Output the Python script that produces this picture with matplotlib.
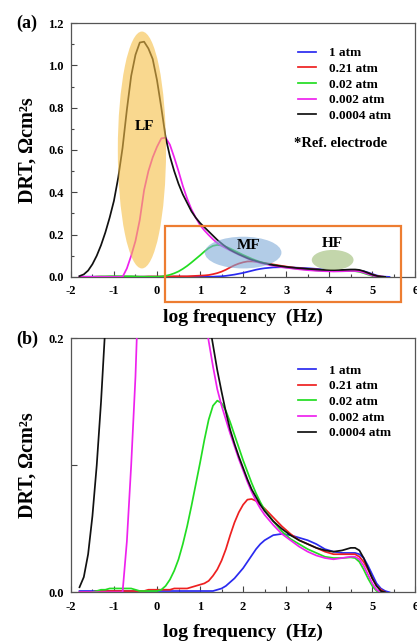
import numpy as np
import matplotlib
matplotlib.use("Agg")
import matplotlib.pyplot as plt
from matplotlib.patches import Ellipse, Rectangle
from matplotlib.ticker import MultipleLocator, FormatStrFormatter

nan = np.nan
log_f = [-1.9, -1.8, -1.7, -1.6, -1.5, -1.4, -1.3, -1.2, -1.1, -1.0, -0.9, -0.8, -0.7, -0.6,
         -0.5, -0.4, -0.3, -0.2, -0.1, 0.0, 0.1, 0.2, 0.3, 0.4, 0.5, 0.6, 0.7, 0.8, 0.9, 1.0,
         1.1, 1.2, 1.3, 1.4, 1.5, 1.6, 1.7, 1.8, 1.9, 2.0, 2.1, 2.2, 2.3, 2.4, 2.5, 2.7, 2.9,
         3.1, 3.3, 3.5, 3.7, 3.9, 4.1, 4.3, 4.5, 4.6, 4.7, 4.8, 4.9, 5.0, 5.1, 5.2, 5.3, 5.4]

drt_1atm = [nan, 0.001, 0.001, 0.001, 0.001, 0.001, 0.001, 0.001, 0.001, 0.001, 0.001, 0.001, 0.001, 0.001,
            0.001, 0.001, 0.001, 0.001, 0.001, 0.001, 0.001, 0.001, 0.001, 0.001, 0.001, 0.001, 0.001, 0.001, 0.001, 0.001,
            0.001, 0.001, 0.001, 0.002, 0.003, 0.005, 0.008, 0.011, 0.015, 0.019, 0.024, 0.029, 0.034, 0.038, 0.041, 0.045, 0.046,
            0.045, 0.043, 0.041, 0.038, 0.034, 0.032, 0.031, 0.031, 0.031, 0.030, 0.027, 0.021, 0.014, 0.007, 0.003, 0.001, 0.0]

drt_021atm = [nan, 0.0, 0.0, 0.0, 0.0, 0.001, 0.001, 0.001, 0.001, 0.001, 0.001, 0.001, 0.001, 0.001,
              0.001, 0.001, 0.001, 0.002, 0.002, 0.002, 0.002, 0.002, 0.002, 0.003, 0.003, 0.003, 0.003, 0.004, 0.005, 0.006,
              0.007, 0.009, 0.013, 0.018, 0.025, 0.034, 0.045, 0.055, 0.063, 0.069, 0.073, 0.0735, 0.072, 0.069, 0.066, 0.059, 0.052,
              0.046, 0.041, 0.038, 0.035, 0.032, 0.030, 0.030, 0.030, 0.030, 0.028, 0.024, 0.018, 0.011, 0.005, 0.002, 0.0, nan]

drt_002atm = [nan, nan, nan, nan, 0.0, 0.001, 0.002, 0.002, 0.003, 0.003, 0.003, 0.003, 0.003, 0.003,
              0.002, 0.001, 0.001, 0.001, 0.001, 0.001, 0.002, 0.005, 0.010, 0.017, 0.026, 0.038, 0.052, 0.068, 0.085, 0.102,
              0.120, 0.136, 0.147, 0.151, 0.149, 0.143, 0.134, 0.124, 0.114, 0.104, 0.095, 0.086, 0.078, 0.071, 0.065, 0.056, 0.048,
              0.042, 0.038, 0.034, 0.031, 0.028, 0.027, 0.027, 0.0275, 0.027, 0.024, 0.018, 0.011, 0.005, 0.001, 0.0, nan, nan]

drt_0002atm = [nan, 0.0, 0.0, 0.0, 0.0, 0.0, 0.0, 0.0, 0.0, 0.0, 0.0, 0.0, 0.04, 0.10,
               0.17, 0.27, 0.41, 0.50, 0.565, 0.615, 0.655, 0.658, 0.625, 0.565, 0.50, 0.43, 0.37, 0.32, 0.28, 0.245,
               0.22, 0.198, 0.178, 0.160, 0.147, 0.136, 0.125, 0.115, 0.105, 0.096, 0.087, 0.079, 0.072, 0.066, 0.061, 0.053, 0.046,
               0.041, 0.036, 0.032, 0.029, 0.027, 0.026, 0.027, 0.028, 0.028, 0.026, 0.021, 0.014, 0.007, 0.002, 0.0, nan, nan]

drt_00004atm = [nan, 0.004, 0.012, 0.030, 0.060, 0.10, 0.15, 0.21, 0.28, 0.36, 0.47, 0.61, 0.79, 0.95,
                1.05, 1.108, 1.112, 1.08, 1.03, 0.93, 0.80, 0.66, 0.57, 0.50, 0.44, 0.39, 0.35, 0.31, 0.28, 0.255,
                0.235, 0.215, 0.195, 0.175, 0.158, 0.142, 0.128, 0.117, 0.107, 0.098, 0.089, 0.081, 0.075, 0.069, 0.064, 0.056, 0.050,
                0.045, 0.041, 0.038, 0.035, 0.033, 0.032, 0.033, 0.035, 0.035, 0.033, 0.027, 0.019, 0.011, 0.005, 0.001, 0.0, nan]

labels = ["1 atm", "0.21 atm", "0.02 atm", "0.002 atm", "0.0004 atm"]
colors = ["#2a2af0", "#ee2020", "#22dd22", "#ee22ee", "#111111"]
series = [drt_1atm, drt_021atm, drt_002atm, drt_0002atm, drt_00004atm]

FONT = "Liberation Serif"
plt.rcParams["font.family"] = [FONT, "DejaVu Serif"]
plt.rcParams["font.weight"] = "bold"

fig = plt.figure(figsize=(4.17, 6.41), dpi=100)
ax1 = fig.add_axes([0.170, 0.568, 0.826, 0.396])
ax2 = fig.add_axes([0.170, 0.076, 0.826, 0.396])


def style(ax, ymax):
    ax.set_xlim(-2, 6)
    ax.set_ylim(0, ymax)
    ax.xaxis.set_major_locator(MultipleLocator(1))
    ax.xaxis.set_minor_locator(MultipleLocator(0.5))
    ax.tick_params(which="both", direction="in", colors="#444444", labelcolor="black",
                   labelsize=9)
    ax.tick_params(axis="x", which="major", pad=6)
    ax.tick_params(axis="y", which="major", pad=5)
    ax.tick_params(which="major", length=4, width=0.8)
    ax.tick_params(which="minor", length=2.5, width=0.8)
    for s in ax.spines.values():
        s.set_color("#555555")
        s.set_linewidth(0.9)
    ax.set_xlabel("log frequency  (Hz)", fontsize=14, fontweight="bold", labelpad=8)
    ax.set_ylabel("DRT, Ωcm²s", fontsize=14.5, fontweight="bold", labelpad=8)
    ax.xaxis.set_major_formatter(FormatStrFormatter("%d"))


for ax in (ax1, ax2):
    for y, c, lab in zip(series, colors, labels):
        ax.plot(log_f, y, color=c, lw=1.25, label=lab, zorder=3)

style(ax1, 1.2)
ax1.yaxis.set_major_locator(MultipleLocator(0.2))
ax1.yaxis.set_minor_locator(MultipleLocator(0.1))
ax1.yaxis.set_major_formatter(FormatStrFormatter("%.1f"))
style(ax2, 0.2)
ax2.set_yticks([0.0, 0.1, 0.2])
ax2.set_yticklabels(["0.0", "", "0.2"])
for ax in (ax1, ax2):
    for lab in ax.get_xticklabels() + ax.get_yticklabels():
        lab.set_fontweight("bold")

# annotations in panel (a)
ax1.add_patch(Ellipse((-0.35, 0.6), 1.12, 1.12, facecolor="#F5BE45", alpha=0.6,
                      edgecolor="none", zorder=4))
ax1.add_patch(Ellipse((2.0, 0.115), 1.78, 0.15, facecolor="#7FAAD8", alpha=0.6,
                      edgecolor="none", zorder=4))
ax1.add_patch(Ellipse((4.08, 0.08), 0.97, 0.095, facecolor="#A3C07E", alpha=0.65,
                      edgecolor="none", zorder=4))
ax1.text(-0.3, 0.71, "LF", fontsize=11, fontweight="bold", ha="center", va="center", zorder=5)
ax1.text(2.12, 0.15, "MF", fontsize=11, fontweight="bold", ha="center", va="center", zorder=5)
ax1.text(4.07, 0.158, "HF", fontsize=11, fontweight="bold", ha="center", va="center", zorder=5)
rect = Rectangle((0.19, -0.118), 5.48, 0.358, fill=False, edgecolor="#ED7D31",
                 lw=1.6, clip_on=False, zorder=5)
ax1.add_patch(rect)
ax1.text(3.18, 0.633, "*Ref. electrode", fontsize=10.5, fontweight="bold", ha="left",
         va="center")

leg_kw = dict(loc="upper left", frameon=False, handlelength=1.36,
              handletextpad=1.0, labelspacing=0.26, borderaxespad=0, borderpad=0,
              prop={"weight": "bold", "size": 9.5, "family": FONT})
ax1.legend(bbox_to_anchor=(0.66, 0.905), **leg_kw)
ax2.legend(bbox_to_anchor=(0.66, 0.898), **leg_kw)

fig.text(0.063, 0.963, "(a)", fontsize=13, fontweight="bold", ha="center", va="center")
fig.text(0.065, 0.471, "(b)", fontsize=13, fontweight="bold", ha="center", va="center")

fig.savefig("out.png", dpi=100)
